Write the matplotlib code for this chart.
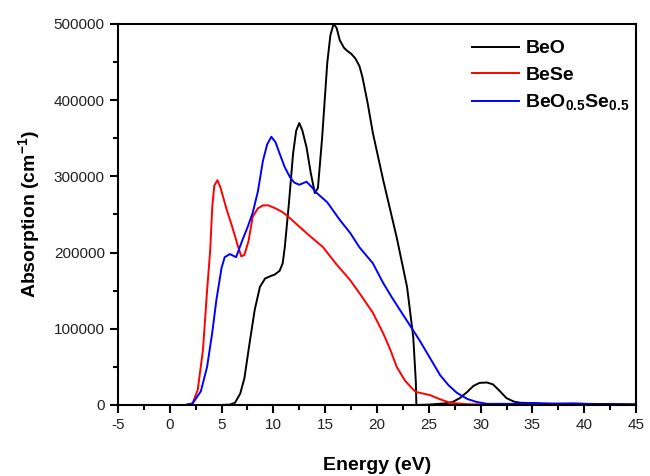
#!/usr/bin/env python3
"""Optical absorption of BeO, BeSe and the BeO0.5Se0.5 alloy."""

import matplotlib

matplotlib.use("Agg")
import matplotlib.pyplot as plt
from matplotlib.ticker import MultipleLocator

# values (energy in eV, absorption in cm^-1)
beo_e = [0.0, 5.0, 5.8, 6.3, 6.8, 7.2, 7.7, 8.2, 8.7, 9.2, 9.7, 10.1, 10.6, 10.9, 11.1,
         11.5, 11.9, 12.2, 12.5, 12.8, 13.2, 13.6, 14.0, 14.3, 14.7, 15.2, 15.5, 15.8, 16.1,
         16.4, 16.8, 17.1, 17.5, 17.9, 18.3, 18.6, 19.1, 19.6, 20.6, 21.9, 22.9, 23.5, 23.75,
         23.8, 25.0, 26.5, 27.3, 28.0, 28.7, 29.3, 29.9, 30.6, 31.2, 31.8, 32.5, 33.2, 33.8,
         36.0, 40.0, 45.0]
beo_a = [0, 0, 500, 3000, 15000, 35000, 81000, 125000, 155000, 166000, 169000, 171000,
         176000, 186000, 207000, 265000, 330000, 360000, 370000, 360000, 338000, 305000,
         278000, 285000, 350000, 449000, 485000, 500000, 495000, 479000, 469000, 465000,
         461000, 455000, 445000, 430000, 396000, 357000, 295000, 220000, 155000, 89000,
         30000, 0, 500, 2000, 4000, 9000, 17000, 25000, 29000, 29500, 27000, 19000, 9000,
         4500, 3000, 1800, 1500, 800]

bese_e = [0.0, 1.5, 2.2, 2.7, 3.2, 3.6, 3.9, 4.1, 4.3, 4.6, 4.9, 5.5, 6.0, 6.5, 6.9, 7.2,
          7.6, 8.0, 8.5, 9.0, 9.5, 10.2, 10.9, 11.7, 12.5, 13.5, 14.8, 16.0, 17.4, 18.5,
          19.6, 20.6, 21.3, 21.9, 22.7, 23.5, 23.8, 25.1, 26.0, 27.0, 28.7, 32.0, 38.0]
bese_a = [0, 0, 2000, 20000, 72000, 150000, 203000, 260000, 288000, 295000, 285000, 256000,
          235000, 212000, 195000, 197000, 215000, 247000, 258000, 262000, 262000, 258000,
          253000, 244000, 234000, 222000, 207000, 186000, 164000, 143000, 121000, 94000,
          72000, 50000, 32000, 20000, 17000, 13000, 8000, 3000, 1000, 300, 200]

alloy_e = [0.0, 1.5, 2.2, 3.0, 3.6, 4.1, 4.5, 5.0, 5.3, 5.8, 6.4, 7.0, 7.5, 8.0, 8.5, 9.0,
           9.4, 9.8, 10.2, 10.6, 11.1, 11.6, 12.0, 12.5, 13.2, 13.7, 14.2, 15.2, 16.4, 17.4,
           18.3, 19.6, 20.6, 21.4, 22.2, 23.2, 24.1, 25.1, 26.1, 26.9, 27.7, 28.7, 29.6, 30.6,
           33.0, 35.0, 37.0, 39.0, 41.0, 45.0]
alloy_a = [0, 0, 2000, 18000, 50000, 95000, 138000, 180000, 194000, 198000, 194000, 216000,
           233000, 252000, 280000, 321000, 342000, 352000, 345000, 330000, 312000, 299000,
           292000, 289000, 293000, 286000, 278000, 266000, 243000, 226000, 207000, 186000,
           160000, 142000, 125000, 104000, 85000, 62000, 39000, 26000, 16000, 8000, 4000,
           1500, 1500, 2500, 1500, 2000, 1000, 500]

SERIES = [
    ("BeO", beo_e, beo_a, "black"),
    ("BeSe", bese_e, bese_a, "#ff0000"),
    (r"$\mathbf{BeO_{0.5}Se_{0.5}}$", alloy_e, alloy_a, "#0000ff"),
]


def configure_style() -> None:
    plt.rcParams.update(
        {
            "font.family": ["Liberation Sans", "DejaVu Sans"],
            "mathtext.fontset": "custom",
            "mathtext.rm": "Liberation Sans",
            "mathtext.bf": "Liberation Sans:bold",
            "axes.unicode_minus": False,
            "axes.linewidth": 1.5,
            "xtick.labelsize": 11,
            "ytick.labelsize": 11,
            "savefig.facecolor": "white",
        }
    )


def main() -> None:
    configure_style()
    fig = plt.figure(figsize=(6.5, 4.76), dpi=100)
    ax = fig.add_axes([0.1815, 0.1492, 0.797, 0.8004])

    for label, xs, ys, color in SERIES:
        ax.plot(xs, ys, color=color, linewidth=1.4, label=label)

    ax.set_xlim(-5, 45)
    ax.set_ylim(0, 500000)
    ax.xaxis.set_major_locator(MultipleLocator(5))
    ax.xaxis.set_minor_locator(MultipleLocator(2.5))
    ax.yaxis.set_major_locator(MultipleLocator(100000))
    ax.yaxis.set_minor_locator(MultipleLocator(50000))
    ax.tick_params(which="major", direction="out", length=6, width=1.5, color="black",
                   labelcolor="#222222")
    ax.tick_params(which="minor", direction="out", length=3.5, width=1.5)

    ax.set_xlabel("Energy (eV)", fontsize=14, fontweight="bold", labelpad=18)
    ax.set_ylabel(r"Absorption (cm$^{\mathbf{-1}}$)", fontsize=14, fontweight="bold",
                  labelpad=8)

    ax.legend(
        loc="upper left",
        bbox_to_anchor=(0.668, 0.979),
        borderaxespad=0.0,
        frameon=False,
        prop={"size": 14, "weight": "bold"},
        handlelength=2.45,
        handletextpad=0.3,
        labelspacing=0.45,
    )

    fig.savefig("out.png", dpi=100)
    plt.close(fig)


if __name__ == "__main__":
    main()
